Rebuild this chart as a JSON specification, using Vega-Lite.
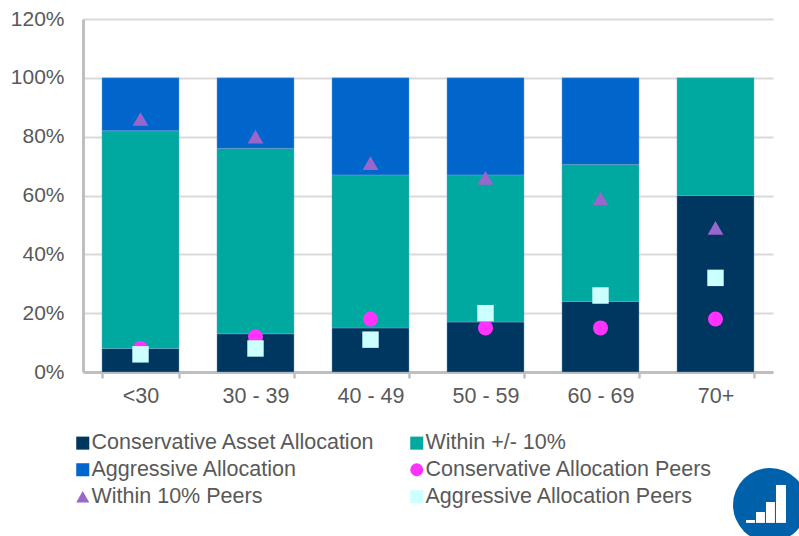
{
  "$schema": "https://vega.github.io/schema/vega-lite/v6.json",
  "width": 690,
  "height": 353,
  "autosize": {"type": "none"},
  "padding": {"left": 83, "top": 19, "right": 26, "bottom": 164},
  "background": "white",
  "config": {
    "font": "Liberation Sans",
    "view": {"stroke": null}
  },
  "datasets": {
    "allocation": [
      {"age": "<30", "series": "Conservative Asset Allocation", "rank": 1, "share": 0.08},
      {"age": "<30", "series": "Within +/- 10%", "rank": 2, "share": 0.74},
      {"age": "<30", "series": "Aggressive Allocation", "rank": 3, "share": 0.18},
      {"age": "30 - 39", "series": "Conservative Asset Allocation", "rank": 1, "share": 0.13},
      {"age": "30 - 39", "series": "Within +/- 10%", "rank": 2, "share": 0.63},
      {"age": "30 - 39", "series": "Aggressive Allocation", "rank": 3, "share": 0.24},
      {"age": "40 - 49", "series": "Conservative Asset Allocation", "rank": 1, "share": 0.15},
      {"age": "40 - 49", "series": "Within +/- 10%", "rank": 2, "share": 0.52},
      {"age": "40 - 49", "series": "Aggressive Allocation", "rank": 3, "share": 0.33},
      {"age": "50 - 59", "series": "Conservative Asset Allocation", "rank": 1, "share": 0.17},
      {"age": "50 - 59", "series": "Within +/- 10%", "rank": 2, "share": 0.50},
      {"age": "50 - 59", "series": "Aggressive Allocation", "rank": 3, "share": 0.33},
      {"age": "60 - 69", "series": "Conservative Asset Allocation", "rank": 1, "share": 0.24},
      {"age": "60 - 69", "series": "Within +/- 10%", "rank": 2, "share": 0.465},
      {"age": "60 - 69", "series": "Aggressive Allocation", "rank": 3, "share": 0.295},
      {"age": "70+", "series": "Conservative Asset Allocation", "rank": 1, "share": 0.60},
      {"age": "70+", "series": "Within +/- 10%", "rank": 2, "share": 0.40}
    ],
    "peers": [
      {"age": "<30", "series": "Conservative Allocation Peers", "share": 0.08},
      {"age": "30 - 39", "series": "Conservative Allocation Peers", "share": 0.12},
      {"age": "40 - 49", "series": "Conservative Allocation Peers", "share": 0.18},
      {"age": "50 - 59", "series": "Conservative Allocation Peers", "share": 0.15},
      {"age": "60 - 69", "series": "Conservative Allocation Peers", "share": 0.15},
      {"age": "70+", "series": "Conservative Allocation Peers", "share": 0.18},
      {"age": "<30", "series": "Within 10% Peers", "share": 0.86},
      {"age": "30 - 39", "series": "Within 10% Peers", "share": 0.80},
      {"age": "40 - 49", "series": "Within 10% Peers", "share": 0.71},
      {"age": "50 - 59", "series": "Within 10% Peers", "share": 0.66},
      {"age": "60 - 69", "series": "Within 10% Peers", "share": 0.59},
      {"age": "70+", "series": "Within 10% Peers", "share": 0.49},
      {"age": "<30", "series": "Aggressive Allocation Peers", "share": 0.06},
      {"age": "30 - 39", "series": "Aggressive Allocation Peers", "share": 0.08},
      {"age": "40 - 49", "series": "Aggressive Allocation Peers", "share": 0.11},
      {"age": "50 - 59", "series": "Aggressive Allocation Peers", "share": 0.20},
      {"age": "60 - 69", "series": "Aggressive Allocation Peers", "share": 0.26},
      {"age": "70+", "series": "Aggressive Allocation Peers", "share": 0.32}
    ],
    "badge": [
      {"cx": 5.974, "cy": -0.452}
    ],
    "badgeBars": [
      {"x0": 5.765, "x1": 5.843, "y0": -0.513, "y1": -0.503},
      {"x0": 5.852, "x1": 5.93, "y0": -0.513, "y1": -0.476},
      {"x0": 5.939, "x1": 6.017, "y0": -0.513, "y1": -0.442},
      {"x0": 6.026, "x1": 6.113, "y0": -0.513, "y1": -0.384}
    ]
  },
  "resolve": {"scale": {"x": "independent"}},
  "layer": [
    {
      "data": {"name": "allocation"},
      "mark": {"type": "bar", "stroke": "#7fa8c9", "strokeWidth": 0.6, "strokeOpacity": 0.7},
      "encoding": {
        "x": {
          "field": "age",
          "type": "nominal",
          "sort": ["<30", "30 - 39", "40 - 49", "50 - 59", "60 - 69", "70+"],
          "scale": {"paddingInner": 0.33, "paddingOuter": 0.165},
          "axis": {
            "title": null,
            "labelAngle": 0,
            "labelFontSize": 21.5,
            "labelColor": "#595959",
            "labelPadding": 7,
            "domainColor": "#bfbfbf",
            "domainWidth": 3,
            "tickColor": "#bfbfbf",
            "tickWidth": 2.5,
            "tickSize": 6,
            "tickBand": "extent",
            "grid": false
          }
        },
        "y": {
          "field": "share",
          "type": "quantitative",
          "stack": "zero",
          "scale": {"domain": [0, 1.2], "nice": false},
          "axis": {
            "title": null,
            "format": ".0%",
            "values": [0, 0.2, 0.4, 0.6, 0.8, 1, 1.2],
            "labelFontSize": 21,
            "labelColor": "#595959",
            "labelPadding": 19,
            "ticks": false,
            "domainColor": "#bfbfbf",
            "domainWidth": 3,
            "grid": true,
            "gridColor": "#d9d9d9",
            "gridWidth": 2
          }
        },
        "order": {"field": "rank", "type": "quantitative"},
        "color": {
          "field": "series",
          "type": "nominal",
          "title": null,
          "scale": {
            "domain": ["Conservative Asset Allocation", "Within +/- 10%", "Aggressive Allocation", "Conservative Allocation Peers", "Within 10% Peers", "Aggressive Allocation Peers"],
            "range": ["#003761", "#00a9a0", "#0066cc", "#ff33ff", "#9966cc", "#ccffff"]
          },
          "legend": {
            "orient": "none",
            "direction": "horizontal",
            "legendX": -11,
            "legendY": 413,
            "columns": 2,
            "columnPadding": 30,
            "rowPadding": 4,
            "labelFontSize": 21.5,
            "labelColor": "#595959",
            "labelOffset": -2,
            "labelLimit": 400,
            "symbolSize": 170,
            "symbolStrokeWidth": 0
          }
        }
      }
    },
    {
      "data": {"name": "peers"},
      "mark": {"type": "point", "filled": true, "opacity": 1},
      "encoding": {
        "x": {
          "field": "age",
          "type": "nominal",
          "sort": ["<30", "30 - 39", "40 - 49", "50 - 59", "60 - 69", "70+"],
          "scale": {"paddingInner": 0.33, "paddingOuter": 0.165},
          "axis": null
        },
        "y": {"field": "share", "type": "quantitative"},
        "color": {"field": "series", "type": "nominal", "title": null},
        "size": {
          "field": "series",
          "type": "nominal",
          "legend": null,
          "scale": {
            "domain": ["Conservative Allocation Peers", "Within 10% Peers", "Aggressive Allocation Peers"],
            "range": [225, 270, 225]
          }
        },
        "shape": {
          "field": "series",
          "type": "nominal",
          "title": null,
          "scale": {
            "domain": ["Conservative Asset Allocation", "Within +/- 10%", "Aggressive Allocation", "Conservative Allocation Peers", "Within 10% Peers", "Aggressive Allocation Peers"],
            "range": ["square", "square", "square", "circle", "triangle-up", "square"]
          }
        }
      }
    },
    {
      "data": {"name": "badge"},
      "mark": {"type": "point", "filled": true, "size": 5476, "shape": "circle", "color": "#0061ab", "opacity": 1},
      "encoding": {
        "x": {"field": "cx", "type": "quantitative", "scale": {"domain": [0, 6], "nice": false, "zero": false}, "axis": null},
        "y": {"field": "cy", "type": "quantitative"}
      }
    },
    {
      "data": {"name": "badgeBars"},
      "mark": {"type": "rect", "color": "white", "clip": false},
      "encoding": {
        "x": {"field": "x0", "type": "quantitative", "scale": {"domain": [0, 6], "nice": false, "zero": false}, "axis": null},
        "x2": {"field": "x1"},
        "y": {"field": "y0", "type": "quantitative"},
        "y2": {"field": "y1"}
      }
    }
  ]
}
